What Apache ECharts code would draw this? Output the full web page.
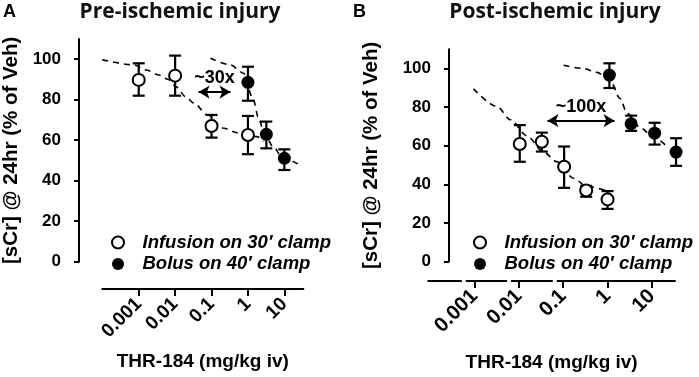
<!DOCTYPE html>
<html>
<head>
<meta charset="utf-8">
<script src="https://cdn.jsdelivr.net/npm/echarts@6/dist/echarts.min.js"></script>
<style>
html, body { margin: 0; padding: 0; background: #fff; }
#chart { width: 699px; height: 377px; }
</style>
</head>
<body>
<div id="chart"></div>
<script>
// x is plotted as log10(dose in mg/kg)
var xTickLogs = [-3, -2, -1, 0, 1];
var xTickLabels = ['0.001', '0.01', '0.1', '1', '10'];
var yTicks = [0, 20, 40, 60, 80, 100];
var groupNames = ['Infusion on 30′ clamp', 'Bolus on 40′ clamp'];

// panel A - pre-ischemic
var doseInfA = [0.001, 0.01, 0.1, 1];
var scrInfA = [89.8, 91.9, 67.0, 62.6];
var hiInfA = [98.0, 101.8, 72.5, 72.0];
var loInfA = [82.0, 82.0, 61.3, 53.1];
var doseBolA = [1, 3.2, 10];
var scrBolA = [88.6, 62.9, 51.1];
var hiBolA = [96.3, 69.2, 55.5];
var loBolA = [79.5, 56.0, 45.3];
var fitInfALog = [-4.0, -3.12, -2.8, -2.44, -2.2, -1.98, -1.71, -1.48, -1.12, -0.66, -0.3, 0.25, 0.42];
var fitInfAY = [99.7, 97.2, 94.7, 92.2, 90.1, 86.5, 81.5, 78.3, 72.6, 65.9, 63.7, 61.8, 59.3];
var fitBolALog = [-1.03, -0.48, -0.12, 0.15, 0.28, 0.42, 0.69, 0.96, 1.37];
var fitBolAY = [100.5, 97.2, 93.1, 79.9, 71.6, 65.1, 56.8, 51.2, 48.3];
var arrowA = [-1.355, -0.48, 83.8]; // from, to (log dose), y
var arrowTextA = '~30x';

// panel B - post-ischemic
var doseInfB = [0.0105, 0.033, 0.105, 0.33, 1.0];
var scrInfB = [60.9, 62.1, 49.1, 36.8, 32.2];
var hiInfB = [70.7, 66.8, 59.6, 39.2, 36.5];
var loInfB = [51.7, 57.0, 38.2, 33.6, 27.3];
var doseBolB = [1.1, 3.4, 11.5, 35];
var scrBolB = [96.6, 71.4, 66.5, 56.7];
var hiBolB = [102.7, 75.6, 71.9, 63.9];
var loBolB = [89.9, 67.7, 60.6, 49.6];
var fitInfBLog = [-3.02, -2.49, -2.19, -1.82, -1.44, -1.14, -0.77, -0.47, 0.06];
var fitInfBY = [89.5, 80.3, 73.5, 65.2, 56.7, 51.7, 43.2, 39.0, 36.0];
var fitBolBLog = [-0.99, -0.54, -0.24, 0.06, 0.28, 0.44, 0.74, 1.04, 1.34];
var fitBolBY = [101.7, 100, 98, 93.7, 84.5, 76.9, 69.3, 64.3, 59.6];
var arrowB = [-1.354, 0.157, 73];
var arrowTextB = '~100x';
var axisGapsB = [-3.24, -2.22, -1.19]; // breaks in the B x-axis line

var ink = '#000';
var font = 'Liberation Sans';

function pts(dose, y) {
    return dose.map(function (d, i) { return [Math.log10(d), y[i]]; });
}
function bars(dose, lo, hi) {
    return dose.map(function (d, i) { return [Math.log10(d), lo[i], hi[i]]; });
}
function curve(lx, y) {
    return lx.map(function (x, i) { return [x, y[i]]; });
}

function errBar(params, api) {
    var top = api.coord([api.value(0), api.value(2)]);
    var bot = api.coord([api.value(0), api.value(1)]);
    var w = 6;
    var st = { stroke: ink, lineWidth: 2.2 };
    return {
        type: 'group',
        children: [
            { type: 'line', shape: { x1: top[0], y1: top[1], x2: bot[0], y2: bot[1] }, style: st },
            { type: 'line', shape: { x1: top[0] - w, y1: top[1], x2: top[0] + w, y2: top[1] }, style: st },
            { type: 'line', shape: { x1: bot[0] - w, y1: bot[1], x2: bot[0] + w, y2: bot[1] }, style: st }
        ]
    };
}

function xAxisFor(i, min, offset, labelSize, nameGap) {
    return {
        gridIndex: i, type: 'value', min: min, max: 1.52, offset: offset,
        axisLine: { onZero: false, lineStyle: { color: ink, width: 2 } },
        axisTick: { customValues: xTickLogs, length: 7, lineStyle: { color: ink, width: 2 } },
        axisLabel: {
            customValues: xTickLogs, rotate: 45, margin: 12,
            fontFamily: font, fontWeight: 'bold', fontSize: labelSize, color: ink,
            formatter: function (v) {
                var k = xTickLogs.indexOf(Math.round(v));
                return k < 0 ? '' : xTickLabels[k];
            }
        },
        splitLine: { show: false },
        name: 'THR-184 (mg/kg iv)', nameLocation: 'middle', nameGap: nameGap,
        nameTextStyle: { fontFamily: font, fontWeight: 'bold', fontSize: 19, color: ink }
    };
}

function yAxisFor(i, offset, nameGap) {
    return {
        gridIndex: i, type: 'value', min: 0, max: 110, offset: offset,
        axisLine: { show: true, onZero: false, lineStyle: { color: ink, width: 2 } },
        axisTick: { show: true, customValues: yTicks, length: 5, lineStyle: { color: ink, width: 2 } },
        axisLabel: {
            customValues: yTicks, margin: 18,
            fontFamily: font, fontWeight: 'bold', fontSize: 17, color: ink
        },
        splitLine: { show: false },
        name: '[sCr] @ 24hr (% of Veh)', nameLocation: 'middle', nameGap: nameGap,
        nameTextStyle: { fontFamily: font, fontWeight: 'bold', fontSize: 20.5, color: ink }
    };
}

function panelSeries(i, fitInf, fitBol, errInf, errBol, ptInf, ptBol, arrow, arrowText) {
    var dash = { color: ink, width: 1.6, type: [6, 5] };
    return [
        {
            name: 'fitInf' + i, type: 'line', xAxisIndex: i, yAxisIndex: i,
            data: fitInf, smooth: 0.3, smoothMonotone: 'x', showSymbol: false,
            lineStyle: dash, z: 2, silent: true
        },
        {
            name: 'fitBol' + i, type: 'line', xAxisIndex: i, yAxisIndex: i,
            data: fitBol, smooth: 0.3, smoothMonotone: 'x', showSymbol: false,
            lineStyle: dash, z: 2, silent: true,
            markLine: {
                silent: true, symbol: ['arrow', 'arrow'], symbolSize: [10, 11],
                lineStyle: { color: ink, width: 2, type: 'solid' },
                label: {
                    show: true, position: 'insideMiddleTop', distance: 5, formatter: arrowText,
                    fontFamily: font, fontWeight: 'bold', fontSize: 18, color: ink
                },
                data: [[{ coord: [arrow[0], arrow[2]] }, { coord: [arrow[1], arrow[2]] }]]
            }
        },
        {
            name: 'errInf' + i, type: 'custom', xAxisIndex: i, yAxisIndex: i,
            renderItem: errBar, data: errInf, encode: { x: 0, y: [1, 2] }, z: 3, silent: true
        },
        {
            name: 'errBol' + i, type: 'custom', xAxisIndex: i, yAxisIndex: i,
            renderItem: errBar, data: errBol, encode: { x: 0, y: [1, 2] }, z: 3, silent: true
        },
        {
            name: groupNames[0], type: 'scatter', xAxisIndex: i, yAxisIndex: i,
            data: ptInf, symbol: 'circle', symbolSize: 12, clip: false, z: 4,
            itemStyle: { color: '#fff', borderColor: ink, borderWidth: 2, opacity: 1 }
        },
        {
            name: groupNames[1], type: 'scatter', xAxisIndex: i, yAxisIndex: i,
            data: ptBol, symbol: 'circle', symbolSize: 13, clip: false, z: 4,
            itemStyle: { color: ink, opacity: 1 }
        }
    ];
}

function legendAt(left) {
    return {
        data: groupNames, orient: 'vertical', left: left, top: 228,
        itemWidth: 39, itemHeight: 12, itemGap: 2.6, selectedMode: false,
        textStyle: {
            fontFamily: font, fontWeight: 'bold', fontStyle: 'italic',
            fontSize: 18.5, color: ink, lineHeight: 18
        }
    };
}

var chart = echarts.init(document.getElementById('chart'));
var option = {
    animation: false,
    backgroundColor: '#fff',
    grid: [
        { left: 101, top: 39, width: 202.3, height: 222.7 },
        { left: 428.3, top: 49.2, width: 246.7, height: 218.1 }
    ],
    xAxis: [
        xAxisFor(0, -4.0, 27.3, 19, 63),
        xAxisFor(1, -4.04, 19.4, 20.5, 72)
    ],
    yAxis: [
        yAxisFor(0, 23.3, 57),
        yAxisFor(1, -20.7, 67)
    ],
    legend: [legendAt(106), legendAt(468)],
    graphic: [
        { type: 'text', left: 3, top: 3, style: { text: 'A', font: 'bold 18px "Liberation Sans"', fill: ink } },
        { type: 'text', left: 353, top: 3, style: { text: 'B', font: 'bold 18px "Liberation Sans"', fill: ink } },
        { type: 'text', x: 180, y: 12, style: { text: 'Pre-ischemic injury', font: 'bold 21px "Open Sans"', fill: '#111', align: 'center', verticalAlign: 'middle' } },
        { type: 'text', x: 555, y: 12, style: { text: 'Post-ischemic injury', font: 'bold 21px "Open Sans"', fill: '#111', align: 'center', verticalAlign: 'middle' } }
    ],
    series: [].concat(
        panelSeries(0, curve(fitInfALog, fitInfAY), curve(fitBolALog, fitBolAY),
            bars(doseInfA, loInfA, hiInfA), bars(doseBolA, loBolA, hiBolA),
            pts(doseInfA, scrInfA), pts(doseBolA, scrBolA), arrowA, arrowTextA),
        panelSeries(1, curve(fitInfBLog, fitInfBY), curve(fitBolBLog, fitBolBY),
            bars(doseInfB, loInfB, hiInfB), bars(doseBolB, loBolB, hiBolB),
            pts(doseInfB, scrInfB), pts(doseBolB, scrBolB), arrowB, arrowTextB)
    )
};
chart.setOption(option);

// white gaps in the broken B x-axis line
var yLine = chart.convertToPixel({ yAxisIndex: 1 }, 0) + 19.4;
chart.setOption({
    graphic: option.graphic.concat(axisGapsB.map(function (g) {
        var px = chart.convertToPixel({ xAxisIndex: 1 }, g);
        return { type: 'rect', shape: { x: px - 2, y: yLine - 3, width: 4, height: 6 }, style: { fill: '#fff' }, z: 100 };
    }))
});

window.addEventListener('resize', function () {
    chart.resize();
});
</script>
</body>
</html>
